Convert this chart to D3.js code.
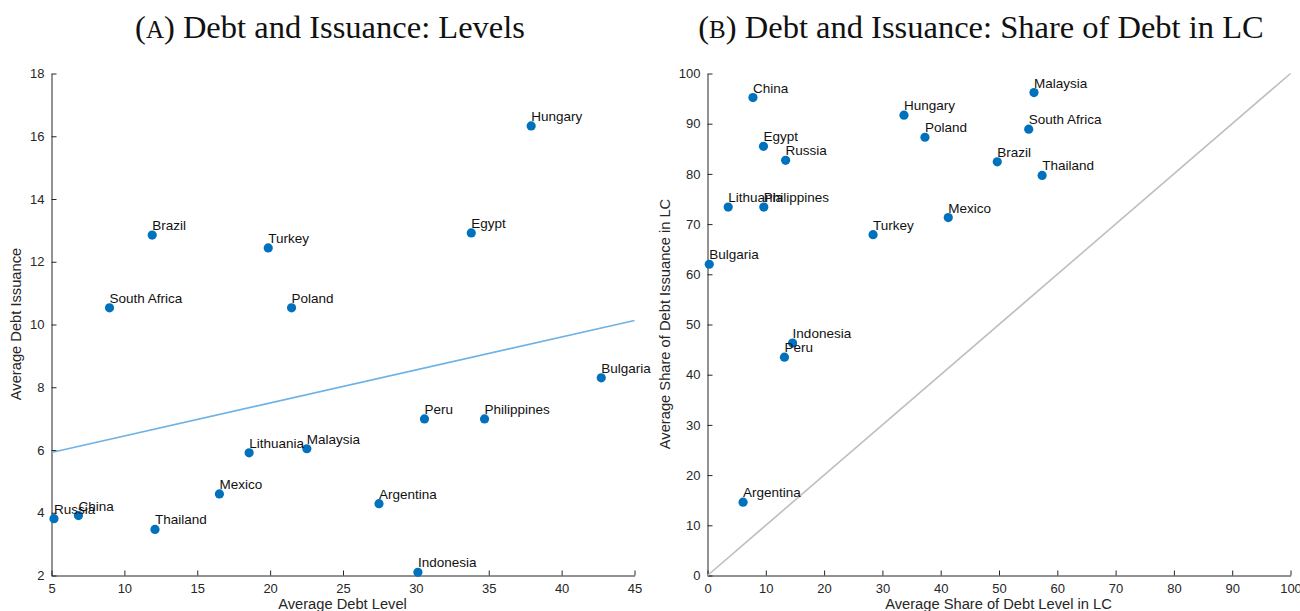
<!DOCTYPE html>
<html>
<head>
<meta charset="utf-8">
<script src="https://cdnjs.cloudflare.com/ajax/libs/d3/7.8.5/d3.min.js"></script>
<style>
  body { margin: 0; background: #fff; }
  svg { display: block; }
  .axis text { font-family: "Liberation Sans", Arial, sans-serif; font-size: 13px; fill: #262626; }
  .axis path, .axis line { stroke: #262626; }
  .lbl { font-family: "Liberation Sans", Arial, sans-serif; font-size: 13.5px; fill: #111; }
  .axtitle { font-family: "Liberation Sans", Arial, sans-serif; font-size: 14.7px; fill: #262626; }
  .title { font-family: "Liberation Serif", "DejaVu Serif", serif; font-size: 32.5px; fill: #111; }
</style>
</head>
<body>
<div class="chart"></div>
<script>
var totalWidth = 1300;
var totalHeight = 611;

// DATA
var countries = ["Argentina", "Brazil", "Bulgaria", "China", "Egypt", "Hungary", "Indonesia",
  "Lithuania", "Malaysia", "Mexico", "Peru", "Philippines", "Poland", "Russia",
  "South Africa", "Thailand", "Turkey"];

// panel A: levels
var debtLevel    = [27.47, 11.91, 42.72, 6.85, 33.80, 37.91, 30.14, 18.56, 22.52, 16.52, 30.59, 34.71, 21.47, 5.17, 8.98, 12.10, 19.87];
var debtIssuance = [4.29, 12.85, 8.30, 3.91, 12.92, 16.33, 2.10, 5.91, 6.04, 4.60, 6.99, 6.99, 10.53, 3.81, 10.53, 3.47, 12.44];
var fitX = [5, 45];
var fitY = [5.92, 10.13];

// panel B: share in local currency
var shareLevel    = [6.1, 49.7, 0.3, 7.8, 9.6, 33.7, 14.6, 3.55, 56.0, 41.3, 13.2, 9.66, 37.3, 13.4, 55.1, 57.4, 28.4];
var shareIssuance = [14.6, 82.4, 62.0, 95.2, 85.5, 91.7, 46.3, 73.4, 96.2, 71.3, 43.5, 73.4, 87.3, 82.7, 88.9, 79.7, 67.9];
var diagX = [0, 100];

var ticksA_x = [5, 10, 15, 20, 25, 30, 35, 40, 45];
var ticksA_y = [2, 4, 6, 8, 10, 12, 14, 16, 18];
var ticksB = [0, 10, 20, 30, 40, 50, 60, 70, 80, 90, 100];

var dotColor = "#0072BD";

var svg = d3.select(".chart")
  .append("svg")
  .attr("width", totalWidth)
  .attr("height", totalHeight);

svg.append("rect").attr("width", totalWidth).attr("height", totalHeight).attr("fill", "#fff");

function drawPanel(opt) {
  var width = opt.x1 - opt.x0;
  var height = opt.y1 - opt.y0;

  var xScale = d3.scaleLinear().domain(opt.xDomain).range([0, width]);
  var yScale = d3.scaleLinear().domain(opt.yDomain).range([height, 0]);

  var g = svg.append("g")
    .attr("transform", "translate(" + (opt.x0 + 0.5) + "," + (opt.y0 + 0.5) + ")");

  // title, with small-caps panel letter
  var t = svg.append("text")
    .attr("class", "title")
    .attr("x", opt.titleX)
    .attr("y", 38)
    .attr("text-anchor", "middle");
  t.append("tspan").text("(");
  t.append("tspan").style("font-size", "25px").text(opt.letter);
  t.append("tspan").text(") " + opt.title);

  var xAxis = d3.axisBottom(xScale)
    .tickValues(opt.xTicks)
    .tickSizeInner(-5)
    .tickSizeOuter(0)
    .tickPadding(8);

  var yAxis = d3.axisLeft(yScale)
    .tickValues(opt.yTicks)
    .tickSizeInner(-5)
    .tickSizeOuter(0)
    .tickPadding(7);

  g.append("g")
    .attr("class", "axis")
    .attr("transform", "translate(0," + height + ")")
    .call(xAxis)
    .call(function(a) { a.selectAll("text").attr("font-family", null).attr("font-size", null); });

  g.append("g")
    .attr("class", "axis")
    .call(yAxis)
    .call(function(a) { a.selectAll("text").attr("font-family", null).attr("font-size", null); });

  // axis titles
  svg.append("text")
    .attr("class", "axtitle")
    .attr("x", (opt.x0 + opt.x1) / 2)
    .attr("y", 609)
    .attr("text-anchor", "middle")
    .text(opt.xLabel);

  svg.append("text")
    .attr("class", "axtitle")
    .attr("transform", "translate(" + opt.yLabelX + "," + ((opt.y0 + opt.y1) / 2) + ") rotate(-90)")
    .attr("text-anchor", "middle")
    .text(opt.yLabel);

  // reference line
  var line = d3.line()
    .x(function(d) { return xScale(d[0]); })
    .y(function(d) { return yScale(d[1]); });

  g.append("path")
    .datum(d3.zip(opt.lineX, opt.lineY))
    .attr("d", line)
    .attr("fill", "none")
    .attr("stroke", opt.lineColor)
    .attr("stroke-width", 1.6);

  var pts = d3.zip(countries, opt.xs, opt.ys);

  g.append("g").selectAll("circle")
    .data(pts)
    .enter()
    .append("circle")
    .attr("cx", function(d) { return xScale(d[1]); })
    .attr("cy", function(d) { return yScale(d[2]); })
    .attr("r", 4.6)
    .attr("fill", dotColor);

  g.append("g").selectAll("text")
    .data(pts)
    .enter()
    .append("text")
    .attr("class", "lbl")
    .attr("x", function(d) { return xScale(d[1]); })
    .attr("y", function(d) { return yScale(d[2]) - 5; })
    .text(function(d) { return d[0]; });
}

drawPanel({
  x0: 51, x1: 634, y0: 73, y1: 575,
  xDomain: [5, 45], yDomain: [2, 18],
  xTicks: ticksA_x, yTicks: ticksA_y,
  xs: debtLevel, ys: debtIssuance,
  lineX: fitX, lineY: fitY, lineColor: "#6fb2e4",
  letter: "A", title: "Debt and Issuance: Levels", titleX: 330,
  xLabel: "Average Debt Level", yLabel: "Average Debt Issuance", yLabelX: 21
});

drawPanel({
  x0: 707, x1: 1290, y0: 73, y1: 575,
  xDomain: [0, 100], yDomain: [0, 100],
  xTicks: ticksB, yTicks: ticksB,
  xs: shareLevel, ys: shareIssuance,
  lineX: diagX, lineY: diagX, lineColor: "#bfbfbf",
  letter: "B", title: "Debt and Issuance: Share of Debt in LC", titleX: 981,
  xLabel: "Average Share of Debt Level in LC", yLabel: "Average Share of Debt Issuance in LC", yLabelX: 670
});
</script>
</body>
</html>
